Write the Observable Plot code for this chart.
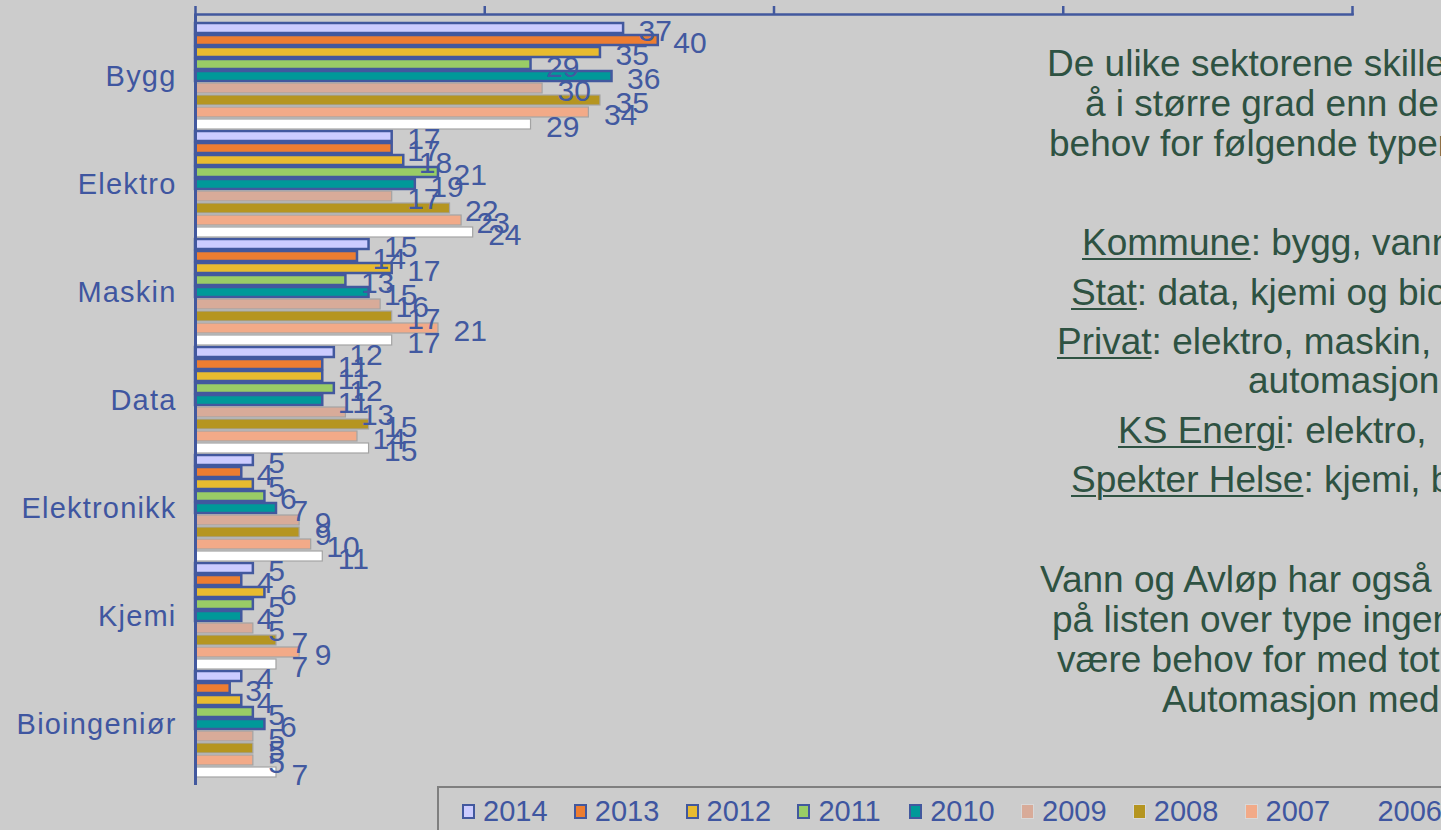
<!DOCTYPE html>
<html>
<head>
<meta charset="utf-8">
<script src="https://cdn.jsdelivr.net/npm/d3@7"></script>
<script src="https://cdn.jsdelivr.net/npm/@observablehq/plot@0.6"></script>
<style>
  html, body { margin: 0; padding: 0; background: #cccccc; overflow: hidden; }
  #page { position: relative; width: 1441px; height: 830px; overflow: hidden; background: #cccccc;
          font-family: "Liberation Sans", Arial, sans-serif; }
  #chart { position: absolute; left: 0; top: 0; }
  #chart svg { overflow: visible; }
  .note { position: absolute; white-space: nowrap; font-size: 37px; line-height: 37px; color: #2e5242; }
  .note u { text-decoration-thickness: 2px; text-underline-offset: 3px; }
  #legend { position: absolute; left: 437px; top: 786px; width: 1100px; height: 60px;
            border: 2px solid #7f7f7f; box-sizing: border-box; background: #cccccc; }
  .item { position: absolute; top: 8px; height: 30px; display: flex; align-items: center;
          font-size: 29px; color: #3f56a0; }
  .sw { flex: 0 0 auto; width: 13px; height: 15px; margin-right: 8px; box-sizing: border-box; }
</style>
</head>
<body>
<div id="page">
  <div id="chart"></div>
  <div id="notes"></div>
  <div id="legend"></div>
</div>
<script>
// ---- data ----
const categories = ["Bygg", "Elektro", "Maskin", "Data", "Elektronikk", "Kjemi", "Bioingeniør"];
const years = ["2014", "2013", "2012", "2011", "2010", "2009", "2008", "2007", "2006"];
const v2014 = [37, 17, 15, 12, 5, 5, 4];
const v2013 = [40, 17, 14, 11, 4, 4, 3];
const v2012 = [35, 18, 17, 11, 5, 6, 4];
const v2011 = [29, 21, 13, 12, 6, 5, 5];
const v2010 = [36, 19, 15, 11, 7, 4, 6];
const v2009 = [30, 17, 16, 13, 9, 5, 5];
const v2008 = [35, 22, 17, 15, 9, 7, 5];
const v2007 = [34, 23, 21, 14, 10, 9, 5];
const v2006 = [29, 24, 17, 15, 11, 7, 7];
const seriesValues = [v2014, v2013, v2012, v2011, v2010, v2009, v2008, v2007, v2006];
const xTicks = [0, 25, 50, 75, 100];

const fillColors = ["#ccccff", "#ed7d31", "#e8bb30", "#99cc66", "#009999", "#d8ab99", "#b59520", "#f2aa88", "#ffffff"];
const borderedYears = ["2014", "2013", "2012", "2011", "2010"];

const noteLines = [
  {u: "", text: "De ulike sektorene skiller", left: 1047, base: 76},
  {u: "", text: "å i større grad enn de", left: 1085, base: 116},
  {u: "", text: "behov for følgende typer", left: 1049, base: 156},
  {u: "Kommune", text: ": bygg, vann", left: 1082, base: 255},
  {u: "Stat", text: ": data, kjemi og bio", left: 1071, base: 305},
  {u: "Privat", text: ": elektro, maskin,", left: 1057, base: 354},
  {u: "", text: "automasjon", left: 1248, base: 393},
  {u: "KS Energi", text: ": elektro,", left: 1118, base: 443},
  {u: "Spekter Helse", text: ": kjemi, b", left: 1071, base: 492},
  {u: "", text: "Vann og Avløp har også", left: 1040, base: 592},
  {u: "", text: "på listen over type ingen", left: 1052, base: 632},
  {u: "", text: "være behov for med tot", left: 1057, base: 672},
  {u: "", text: "Automasjon med", left: 1162, base: 712}
];

// ---- table ----
const rows = [];
categories.forEach((c, ci) => {
  years.forEach((y, yi) => {
    rows.push({cat: c, year: y, key: c + "|" + y, value: seriesValues[yi][ci]});
  });
});
const keys = rows.map(d => d.key);
const midKeys = categories.map(c => c + "|" + years[4]);

const blue = "#42589e";
const labelBlue = "#4259a0";

const plot = Plot.plot({
  width: 1441,
  height: 787,
  marginLeft: 195,
  marginRight: 89,
  marginTop: 14,
  marginBottom: 2,
  style: {background: "transparent", fontFamily: "'Liberation Sans', Arial, sans-serif", overflow: "visible"},
  x: {domain: [0, 100], axis: null},
  y: {domain: keys, paddingInner: 0.18, paddingOuter: 0.35, axis: null},
  color: {domain: years, range: fillColors},
  marks: [
    Plot.barX(rows.filter(d => borderedYears.includes(d.year)), {
      x: "value", y: "key", fill: "year", stroke: blue, strokeWidth: 2.5
    }),
    Plot.barX(rows.filter(d => !borderedYears.includes(d.year)), {
      x: "value", y: "key", fill: "year", stroke: "#a3a3a3", strokeWidth: 1.2
    }),
    Plot.ruleX([0], {stroke: blue, strokeWidth: 3}),
    Plot.frame({anchor: "top", stroke: blue, strokeWidth: 2.5}),
    Plot.axisX({anchor: "top", ticks: xTicks, tickSize: 9, tickFormat: () => "", stroke: blue, strokeWidth: 2.5, label: null}),
    Plot.axisY({ticks: midKeys, tickFormat: k => k.split("|")[0], tickSize: 0, tickPadding: 19,
      fontSize: 29, fill: "#3f56a0", label: null}),
    Plot.text(rows, {
      x: "value", y: "key", text: d => String(d.value), dx: 15, dy: 3,
      textAnchor: "start", fontSize: 30, fill: labelBlue
    })
  ]
});
document.getElementById("chart").appendChild(plot);
// stretch the category labels slightly, like the original
d3.select(plot).selectAll("g[aria-label='y-axis tick label'] text").style("letter-spacing", "1.2px");

// ---- notes ----
const notes = document.getElementById("notes");
noteLines.forEach(l => {
  const div = document.createElement("div");
  div.className = "note";
  div.style.left = l.left + "px";
  div.style.top = (l.base - 31.3) + "px";
  if (l.u) {
    const u = document.createElement("u");
    u.textContent = l.u;
    div.appendChild(u);
  }
  div.appendChild(document.createTextNode(l.text));
  notes.appendChild(div);
});

// ---- legend ----
const legend = document.getElementById("legend");
years.forEach((y, i) => {
  const item = document.createElement("div");
  item.className = "item";
  item.style.left = (23 + i * 111.8) + "px";
  const sw = document.createElement("div");
  sw.className = "sw";
  if (y === "2006") {
    sw.style.background = "transparent";
  } else {
    sw.style.background = fillColors[i];
    sw.style.border = borderedYears.includes(y) ? "2px solid " + blue : "1px solid #d8d8d8";
  }
  item.appendChild(sw);
  const t = document.createElement("span");
  t.textContent = y;
  item.appendChild(t);
  legend.appendChild(item);
});
</script>
</body>
</html>
